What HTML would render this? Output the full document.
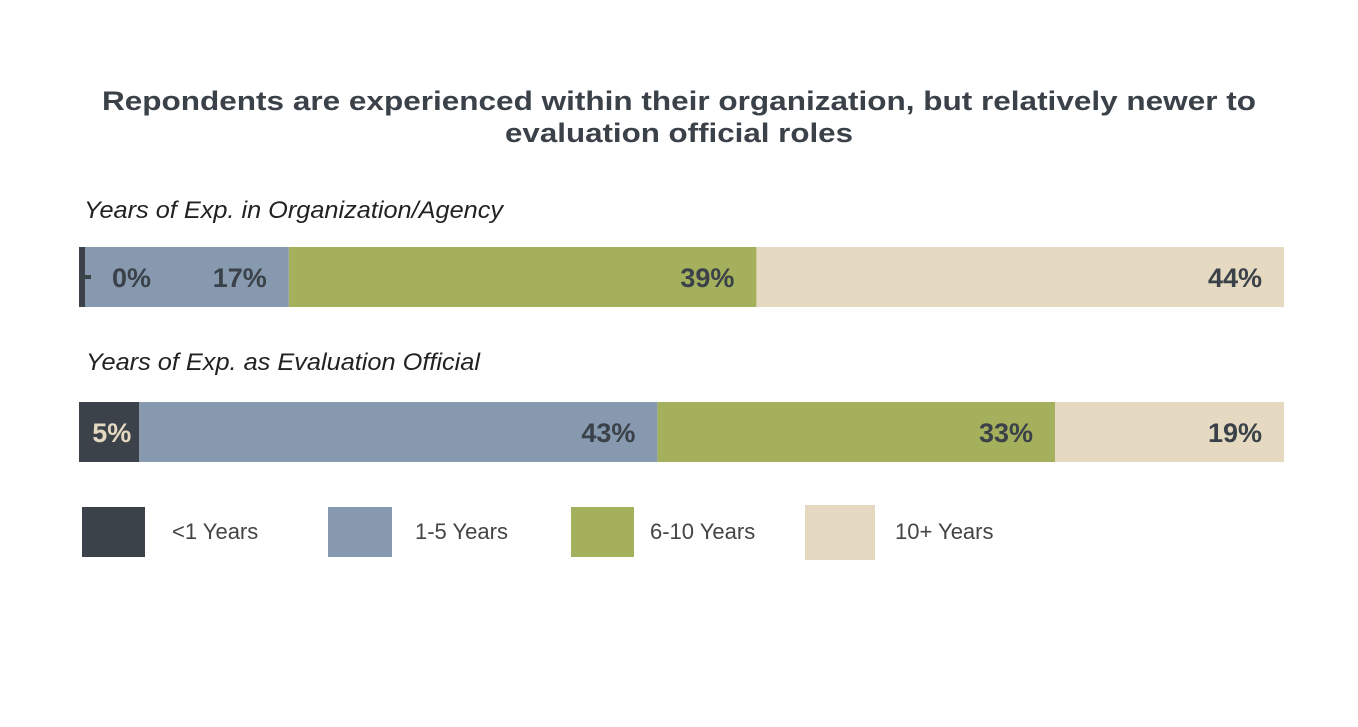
<!DOCTYPE html>
<html><head><meta charset="utf-8"><style>
body{margin:0;background:#fff;width:1358px;height:722px;overflow:hidden;font-family:"Liberation Sans",sans-serif}
</style></head><body>
<svg width="1358" height="722">
<text x="102" y="110" textLength="1154" lengthAdjust="spacingAndGlyphs" font-size="27" font-weight="bold" fill="#3a4149">Repondents are experienced within their organization, but relatively newer to</text>
<text x="505" y="142" textLength="348" lengthAdjust="spacingAndGlyphs" font-size="27" font-weight="bold" fill="#3a4149">evaluation official roles</text>
<g id="bars"></g>
<g id="labels"></g>
<g id="legend"></g>
</svg>
<script>
const categories=["Years of Exp. in Organization/Agency","Years of Exp. as Evaluation Official"];
const seriesNames=["<1 Years","1-5 Years","6-10 Years","10+ Years"];
const orgValues=[0.5,17,39,44];
const orgLabels=["0%","17%","39%","44%"];
const evalValues=[5,43,33,19];
const evalLabels=["5%","43%","33%","19%"];
const colors=["#3b4249","#8799ae","#a4b05c","#e5d9c1"];
const NS="http://www.w3.org/2000/svg";
const x0=79,W=1205;
const rows=[{vals:orgValues,labs:orgLabels,y:247,ty:218,tx:84,tl:419},{vals:evalValues,labs:evalLabels,y:402,ty:370,tx:86,tl:394}];
const g=document.getElementById('bars');
const gl=document.getElementById('labels');
rows.forEach((r,ri)=>{
 const total=r.vals.reduce((s,v)=>s+v,0);
 const xs=v=>x0+v/total*W;
 const t=document.createElementNS(NS,'text');
 
 
 t.setAttribute('x',r.tx);t.setAttribute('y',r.ty);t.setAttribute('font-size','24');t.setAttribute('font-style','italic');t.setAttribute('fill','#222');
 t.setAttribute('textLength',r.tl);t.setAttribute('lengthAdjust','spacingAndGlyphs');
 t.textContent=categories[ri];g.appendChild(t);
 let c=0;
 r.vals.forEach((v,i)=>{
  const a=xs(c),b=xs(c+v);c+=v;
  const rc=document.createElementNS(NS,'rect');
  
  
  rc.setAttribute('x',a);rc.setAttribute('y',r.y);rc.setAttribute('width',b-a);rc.setAttribute('height',60);rc.setAttribute('fill',colors[i]);
  g.appendChild(rc);
  const lt=document.createElementNS(NS,'text');
  
  
  let lx=(i==0)?b-8:b-22; if(v<2) lx=a+72;
  lt.setAttribute('x',lx);lt.setAttribute('y',r.y+40);lt.setAttribute('text-anchor','end');
  lt.setAttribute('font-size','27');lt.setAttribute('font-weight','bold');
  lt.setAttribute('fill',i==0&&v>=2?'#e5d9c1':'#3a4149');
  lt.textContent=r.labs[i];gl.appendChild(lt);
  if(v<2){const d=document.createElementNS(NS,'rect');
   
   
   d.setAttribute('x',b);d.setAttribute('y',r.y+28);d.setAttribute('width',6);d.setAttribute('height',4);d.setAttribute('fill','#3b4249');gl.appendChild(d);}
 });
});
const lg=document.getElementById('legend');
const lbox=[[82,507,63,50],[328,507,64,50],[571,507,63,50],[805,505,70,55]];
const ltx=[172,415,650,895];
seriesNames.forEach((n,i)=>{
 const r=document.createElementNS(NS,'rect');
 
 
 r.setAttribute('x',lbox[i][0]);r.setAttribute('y',lbox[i][1]);r.setAttribute('width',lbox[i][2]);r.setAttribute('height',lbox[i][3]);r.setAttribute('fill',colors[i]);
 lg.appendChild(r);
 const t=document.createElementNS(NS,'text');
 
 
 t.setAttribute('x',ltx[i]);t.setAttribute('y',539);t.setAttribute('font-size','22');t.setAttribute('fill','#444');
 t.textContent=n;lg.appendChild(t);
});
</script>
</body></html>
